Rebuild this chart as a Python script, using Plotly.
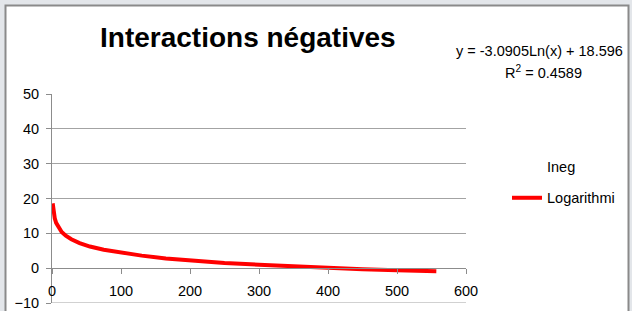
import plotly.graph_objects as go

# Values
trend_x = [1, 2, 4, 6, 8, 10, 14, 20, 28, 40, 55, 75, 100, 130, 165, 200, 250, 300, 350, 400, 450, 500, 557]
trend_y = [18.6, 16.5, 14.3, 13.0, 12.2, 11.5, 10.4, 9.3, 8.3, 7.2, 6.2, 5.3, 4.4, 3.6, 2.8, 2.2, 1.5, 1.0, 0.5, 0.1, -0.3, -0.6, -0.9]
series_names = ["Ineg", "Logarithmi"]
title_text = "Interactions négatives"
equation_text = "y = -3.0905Ln(x) + 18.596"
r2_text = "R<sup>2</sup> = 0.4589"
x_range = [0, 600]
y_range = [-10, 50]

FONT = "Liberation Sans, Arial, sans-serif"
GRID = "#a3a3a3"
AXIS = "#8c8c8c"

# plot area in pixels
L, R, T, B = 52, 466, 94, 303
W, H = 632, 311
pw, ph = R - L, B - T

def px(x):
    return (x - L) / pw

def py(y):
    return (B - y) / ph

fig = go.Figure()
fig.add_trace(go.Scatter(x=[None], y=[None], mode="lines", name=series_names[0],
                         line=dict(width=0, color="rgba(0,0,0,0)"), legendgroup="a"))
fig.add_trace(go.Scatter(x=trend_x, y=trend_y, mode="lines", name=series_names[1],
                         line=dict(width=4, color="#ff0000"), legendgroup="b"))

fig.update_layout(
    width=W, height=H,
    margin=dict(l=L, r=W - R, t=T, b=H - B, pad=0, autoexpand=False),
    paper_bgcolor="#e3e6ea",
    plot_bgcolor="white",
    font=dict(family=FONT, size=14.5, color="black"),
    showlegend=True,
    legend=dict(x=px(507), y=py(150), xanchor="left", yanchor="top",
                bgcolor="rgba(0,0,0,0)", tracegroupgap=10,
                font=dict(family=FONT, size=14.5, color="black")),
    xaxis=dict(range=x_range, dtick=100, tick0=0, anchor="free",
               position=(0 - y_range[0]) / (y_range[1] - y_range[0]),
               showline=True, linecolor=AXIS, linewidth=1,
               ticks="outside", ticklen=5, tickcolor=AXIS, automargin=False,
               showgrid=False, zeroline=False, ticklabelstandoff=4,
               tickfont=dict(family=FONT, size=14.5, color="black")),
    yaxis=dict(range=y_range, dtick=10, tick0=0,
               showline=True, linecolor=AXIS, linewidth=1,
               ticks="outside", ticklen=5, tickcolor=AXIS, automargin=False,
               showgrid=True, gridcolor=GRID, gridwidth=1, zeroline=False,
               ticklabelstandoff=4, ticklabeloverflow="allow",
               tickfont=dict(family=FONT, size=14.5, color="black")),
    shapes=[
        dict(type="rect", xref="paper", yref="paper", layer="below",
             x0=px(5.5), x1=px(628.5), y0=py(330), y1=py(5.5),
             fillcolor="white", line=dict(color="#8a8a8a", width=2)),
        dict(type="line", xref="x", yref="y", layer="below",
             x0=x_range[0], x1=x_range[1], y0=y_range[0], y1=y_range[0],
             line=dict(color=GRID, width=1)),
    ],
    annotations=[
        dict(text="<b>" + title_text + "</b>", xref="paper", yref="paper",
             x=px(248), y=py(38), xanchor="center", yanchor="middle", showarrow=False,
             font=dict(family=FONT, size=28, color="black")),
        dict(text=equation_text, xref="paper", yref="paper",
             x=px(539), y=py(51), xanchor="center", yanchor="middle", showarrow=False,
             font=dict(family=FONT, size=14.5, color="black")),
        dict(text=r2_text, xref="paper", yref="paper",
             x=px(543), y=py(72), xanchor="center", yanchor="middle", showarrow=False,
             font=dict(family=FONT, size=14.5, color="black")),
    ],
)

fig.write_html("out.html", config={"displayModeBar": False},
               post_script="document.body.style.margin='0px';")
